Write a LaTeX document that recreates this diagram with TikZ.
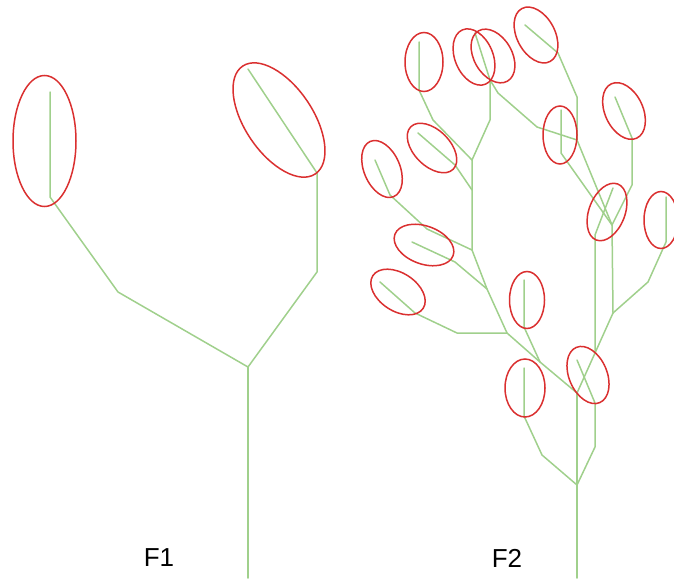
\documentclass[tikz,border=0pt]{standalone}
\usepackage{fontspec}
\setmainfont{Liberation Sans}
\usetikzlibrary{shapes.geometric}
\definecolor{stemc}{RGB}{160,208,140}
\definecolor{ringc}{RGB}{218,48,48}
\begin{document}
\begin{tikzpicture}[x=1pt,y=-1pt,
  branch/.style={draw=stemc, line width=1.5pt, line join=round, line cap=round},
  leafring/.style={draw=ringc, line width=1.5pt, ellipse, inner sep=0pt, outer sep=0pt},
  lbl/.style={font=\fontsize{26}{30}\selectfont, text=black, inner sep=0pt}]
\useasboundingbox (0,0) rectangle (674,578);
% ---------- F1 ----------
\coordinate (a0) at (248,578);
\coordinate (a1) at (248,367);
\coordinate (a2) at (118,292);
\coordinate (a3) at (50,197);
\coordinate (a4) at (50,92);
\coordinate (a5) at (317,272);
\coordinate (a6) at (317,173);
\coordinate (a7) at (248,69);
\draw[branch] (a0) -- (a1);
\draw[branch] (a1) -- (a2) -- (a3) -- (a4);
\draw[branch] (a1) -- (a5) -- (a6) -- (a7);
\node[leafring, minimum width=63pt, minimum height=131pt] (r1) at (44.5,141) {};
\node[leafring, minimum width=68pt, minimum height=130pt, rotate=34] (r2) at (279,120) {};
\node[lbl] (t1) at (159,558) {F1};
% ---------- F2 ----------
\coordinate (b0) at (577,578);
\coordinate (b1) at (577,485);
\coordinate (b2) at (542,455);
\coordinate (b3) at (524,416);
\coordinate (b4) at (524,368);
\coordinate (b5) at (595,447);
\coordinate (b6) at (595,403);
\coordinate (b7) at (577,360);
\coordinate (b8) at (577,393);
\coordinate (c1) at (540,362);
\coordinate (c2) at (507,333);
\coordinate (c3) at (457,333);
\coordinate (c4) at (415,313);
\coordinate (c5) at (380,282);
\coordinate (c6) at (524,327);
\coordinate (c7) at (524,280);
\coordinate (d1) at (595,353);
\coordinate (d2) at (613,313);
\coordinate (d3) at (595,235);
\coordinate (d4) at (613,188);
\coordinate (d5) at (648,282);
\coordinate (d6) at (666,242);
\coordinate (d7) at (666,197);
\coordinate (d8) at (612,225);
\coordinate (d9) at (632,185);
\coordinate (d10) at (632,138);
\coordinate (d11) at (615,97);
\coordinate (d12) at (561,153);
\coordinate (d13) at (561,110);
\coordinate (d14) at (577,140);
\coordinate (d15) at (577,97);
\coordinate (d16) at (558,53);
\coordinate (d17) at (525,25);
\coordinate (e1) at (537,127);
\coordinate (e2) at (498,93);
\coordinate (e3) at (490,80);
\coordinate (f1) at (472,250);
\coordinate (f2) at (472,160);
\coordinate (f3) at (490,120);
\coordinate (f4) at (475,33);
\coordinate (f5) at (433,120);
\coordinate (f6) at (419,90);
\coordinate (f7) at (419,42);
\coordinate (f8) at (418,133);
\coordinate (f9) at (455,165);
\coordinate (f10) at (472,190);
\coordinate (g1) at (375,160);
\coordinate (g2) at (390,195);
\coordinate (g3) at (427,229);
\coordinate (h1) at (412,242);
\coordinate (h2) at (455,262);
\coordinate (h3) at (487,289);
\draw[branch] (b0) -- (b1) -- (b8);
\draw[branch] (b1) -- (b2) -- (b3) -- (b4);
\draw[branch] (b1) -- (b5) -- (b6) -- (b7);
\draw[branch] (b8) -- (c1) -- (c2) -- (c3) -- (c4) -- (c5);
\draw[branch] (c1) -- (c6) -- (c7);
\draw[branch] (b8) -- (d1) -- (d2);
\draw[branch] (d1) -- (d3) -- (d4);
\draw[branch] (d2) -- (d5) -- (d6) -- (d7);
\draw[branch] (d2) -- (d8);
\draw[branch] (d8) -- (d9) -- (d10) -- (d11);
\draw[branch] (d8) -- (d12) -- (d13);
\draw[branch] (d8) -- (d14) -- (d15) -- (d16) -- (d17);
\draw[branch] (d14) -- (e1) -- (e2) -- (e3);
\draw[branch] (c2) -- (h3) -- (f1);
\draw[branch] (f1) -- (f2) -- (f3) -- (e3) -- (f4);
\draw[branch] (f2) -- (f5) -- (f6) -- (f7);
\draw[branch] (f10) -- (f9) -- (f8);
\draw[branch] (f1) -- (g3) -- (g2) -- (g1);
\draw[branch] (h3) -- (h2) -- (h1);
% leaf rings
\node[leafring, minimum width=38pt, minimum height=59pt] (k1) at (424,62) {};
\node[leafring, minimum width=36pt, minimum height=60pt, rotate=45] (k2) at (432,148) {};
\node[leafring, minimum width=38pt, minimum height=59pt, rotate=23] (k3) at (474,57) {};
\node[leafring, minimum width=38pt, minimum height=58pt, rotate=30] (k4) at (493,56) {};
\node[leafring, minimum width=38pt, minimum height=60pt, rotate=28] (k5) at (536,35) {};
\node[leafring, minimum width=34pt, minimum height=58pt] (k6) at (560,135) {};
\node[leafring, minimum width=36pt, minimum height=60pt, rotate=-21] (k7) at (607,212) {};
\node[leafring, minimum width=38pt, minimum height=60pt, rotate=25] (k8) at (624,111) {};
\node[leafring, minimum width=36pt, minimum height=60pt, rotate=23] (k9) at (382,169) {};
\node[leafring, minimum width=38pt, minimum height=62pt, rotate=70] (k10) at (424,245) {};
\node[leafring, minimum width=38pt, minimum height=60pt, rotate=57] (k11) at (398,292) {};
\node[leafring, minimum width=35pt, minimum height=57pt] (k12) at (527,300) {};
\node[leafring, minimum width=40pt, minimum height=58pt] (k13) at (525,388) {};
\node[leafring, minimum width=38pt, minimum height=60pt, rotate=23] (k14) at (588,375) {};
\node[leafring, minimum width=34pt, minimum height=57pt] (k15) at (661,220) {};
\node[lbl] (t2) at (507,558) {F2};
\end{tikzpicture}
\end{document}
